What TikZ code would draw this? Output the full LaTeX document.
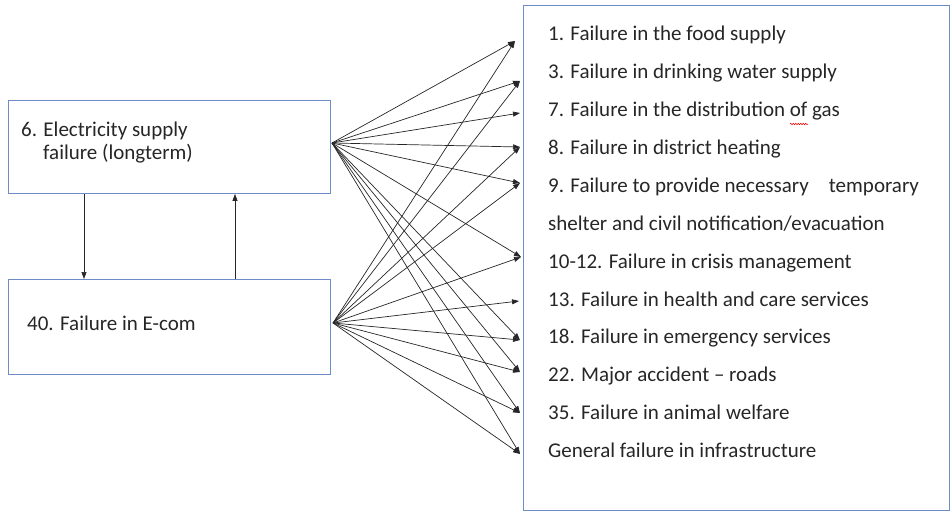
\documentclass[tikz,border=0pt]{standalone}
\usepackage{fontspec}
\setmainfont{Carlito}
\usetikzlibrary{arrows.meta,decorations.pathmorphing}
\definecolor{boxblue}{RGB}{110,140,200}
\definecolor{ink}{RGB}{38,38,38}
\begin{document}
\begin{tikzpicture}[x=1pt,y=-1pt,
  box/.style={draw=boxblue, line width=0.9pt, rectangle, inner sep=0pt, anchor=north west},
  itemtext/.style={anchor=base west, inner sep=0pt, text=ink, font=\fontsize{21}{25}\selectfont},
  conn/.style={draw=black!85, line width=0.7pt, -{Triangle[length=7pt,width=5pt]}},
]
\useasboundingbox (0,0) rectangle (950,512);

% boxes
\node[box, minimum width=322pt, minimum height=93pt] (A) at (8,100) {};
\node[box, minimum width=322pt, minimum height=95pt] (B) at (8,279) {};
\node[box, minimum width=426pt, minimum height=505pt] (R) at (523,5) {};

% left texts
\node[itemtext] (a1) at (21,136) {6. Electricity supply};
\node[itemtext] (a2) at (43,159) {failure (longterm)};
\node[itemtext] (b1) at (27,330) {40. Failure in E-com};

% list of consequences
\node[itemtext] (r1)  at (548,40.7)  {1. Failure in the food supply};
\node[itemtext] (r3)  at (548,78.6)  {3. Failure in drinking water supply};
\node[itemtext] (r7)  at (548,116.5) {7. Failure in the distribution of gas};
\node[itemtext] (r8)  at (548,154.4) {8. Failure in district heating};
\node[itemtext] (r9)  at (548,192.3) {9. Failure to provide necessary\hspace{20pt}temporary};
\node[itemtext] (r9b) at (548,230.2) {shelter and civil notification/evacuation};
\node[itemtext] (r10) at (548,268.1) {10-12. Failure in crisis management};
\node[itemtext] (r13) at (548,306.0) {13. Failure in health and care services};
\node[itemtext] (r18) at (548,343.9) {18. Failure in emergency services};
\node[itemtext] (r22) at (548,381.8) {22. Major accident – roads};
\node[itemtext] (r35) at (548,419.7) {35. Failure in animal welfare};
\node[itemtext] (rG)  at (548,457.6) {General failure in infrastructure};

% spelling squiggle under "of"
\draw[red, line width=0.5pt, decorate, decoration={snake, amplitude=0.8pt, segment length=2.5pt}] (790,124) -- (808,124);

% fan sources and targets
\coordinate (sA) at (332,143);
\coordinate (sB) at (333,323);
\coordinate (t1)  at (515,41);
\coordinate (t3)  at (520,81);
\coordinate (t7)  at (520,113);
\coordinate (t8)  at (520,147);
\coordinate (t9)  at (520,183);
\coordinate (t10) at (521,257);
\coordinate (t13) at (519,301);
\coordinate (t18) at (520,340);
\coordinate (t22) at (520,372);
\coordinate (t35) at (520,413);
\coordinate (tG)  at (520,454);

\foreach \t in {t1,t3,t7,t8,t9,t10,t18,t22,t35,tG}
  \draw[conn] (sA) -- (\t);
\foreach \t in {t1,t3,t8,t9,t10,t13,t18,t22,t35,tG}
  \draw[conn] (sB) -- (\t);

% links between the two left boxes
\coordinate (d1) at (84,0);
\coordinate (d2) at (235,0);
\draw[conn] (A.south -| d1) -- (B.north -| d1);
\draw[conn] (B.north -| d2) -- (A.south -| d2);
\end{tikzpicture}
\end{document}
